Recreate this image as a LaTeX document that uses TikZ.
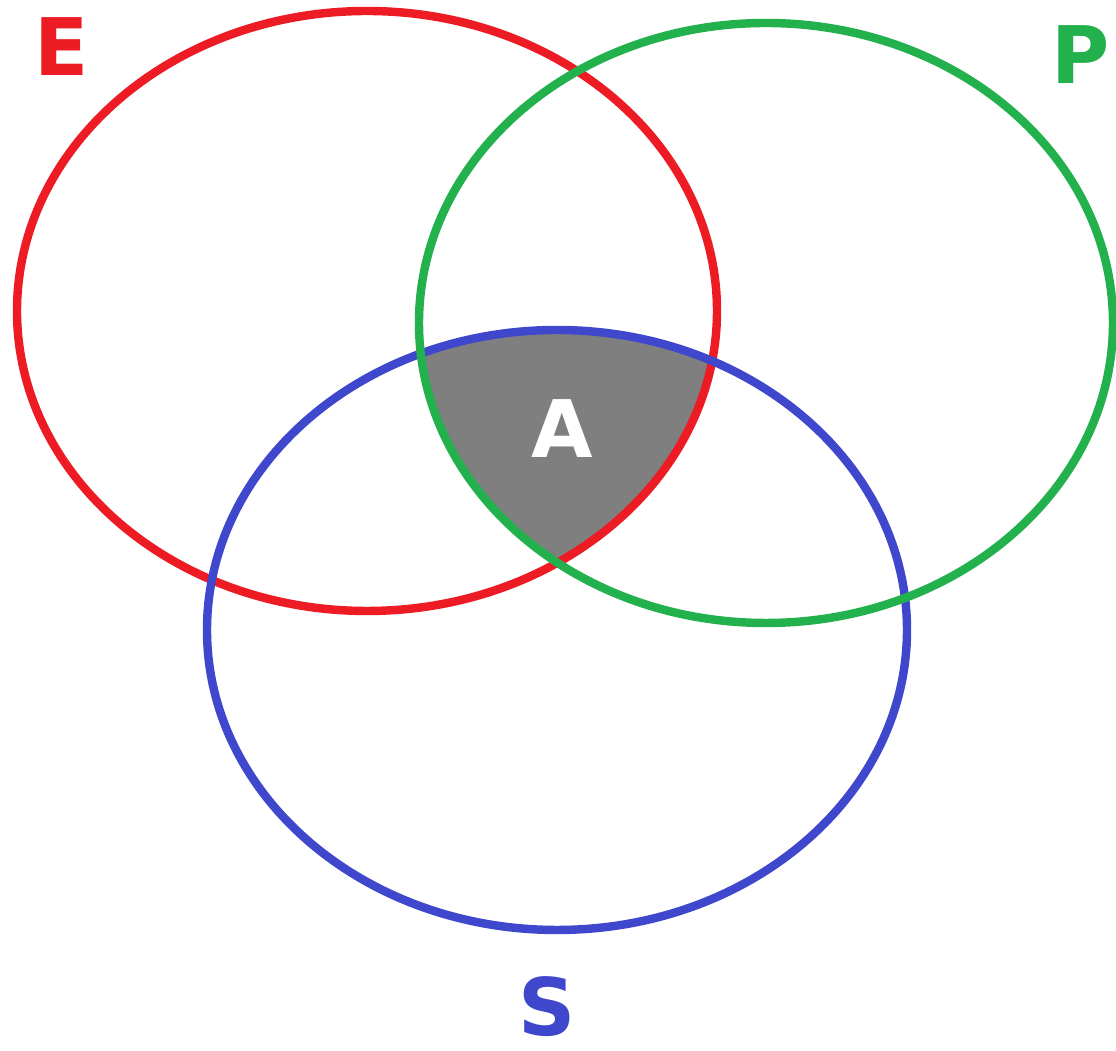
\documentclass[tikz,border=0pt]{standalone}
\usepackage{fontspec}
\setmainfont{DejaVu Sans}
\usepackage{tikz}
\definecolor{setred}{HTML}{ED1C24}
\definecolor{setgreen}{HTML}{22B14C}
\definecolor{setblue}{HTML}{3F48CC}
\definecolor{setgray}{HTML}{7F7F7F}

\begin{document}
\begin{tikzpicture}[line width=2.4pt,
  setlabel/.style={inner sep=0pt,font=\bfseries\fontsize{22.6}{27}\selectfont}]
\useasboundingbox (0,0) rectangle (11.16,10.51);
\begin{scope}
\clip (3.67,7.40) ellipse [x radius=3.50cm, y radius=3.00cm];
\clip (7.66,7.28) ellipse [x radius=3.47cm, y radius=3.00cm];
\fill[setgray] (5.57,4.21) ellipse [x radius=3.50cm, y radius=3.00cm];
\end{scope}
\draw[setred] (3.67,7.40) ellipse [x radius=3.50cm, y radius=3.00cm];
\draw[setblue] (5.57,4.21) ellipse [x radius=3.50cm, y radius=3.00cm];
\draw[setgreen] (7.66,7.28) ellipse [x radius=3.47cm, y radius=3.00cm];
\node[setlabel,text=setred] (labE) at (0.615,10.045) {E};
\node[setlabel,text=setgreen,anchor=east] (labP) at (11.14,9.96) {P};
\node[setlabel,text=setblue] (labS) at (5.47,0.44) {S};
\node[setlabel,text=white] (labA) at (5.62,6.22) {A};
\end{tikzpicture}
\end{document}
